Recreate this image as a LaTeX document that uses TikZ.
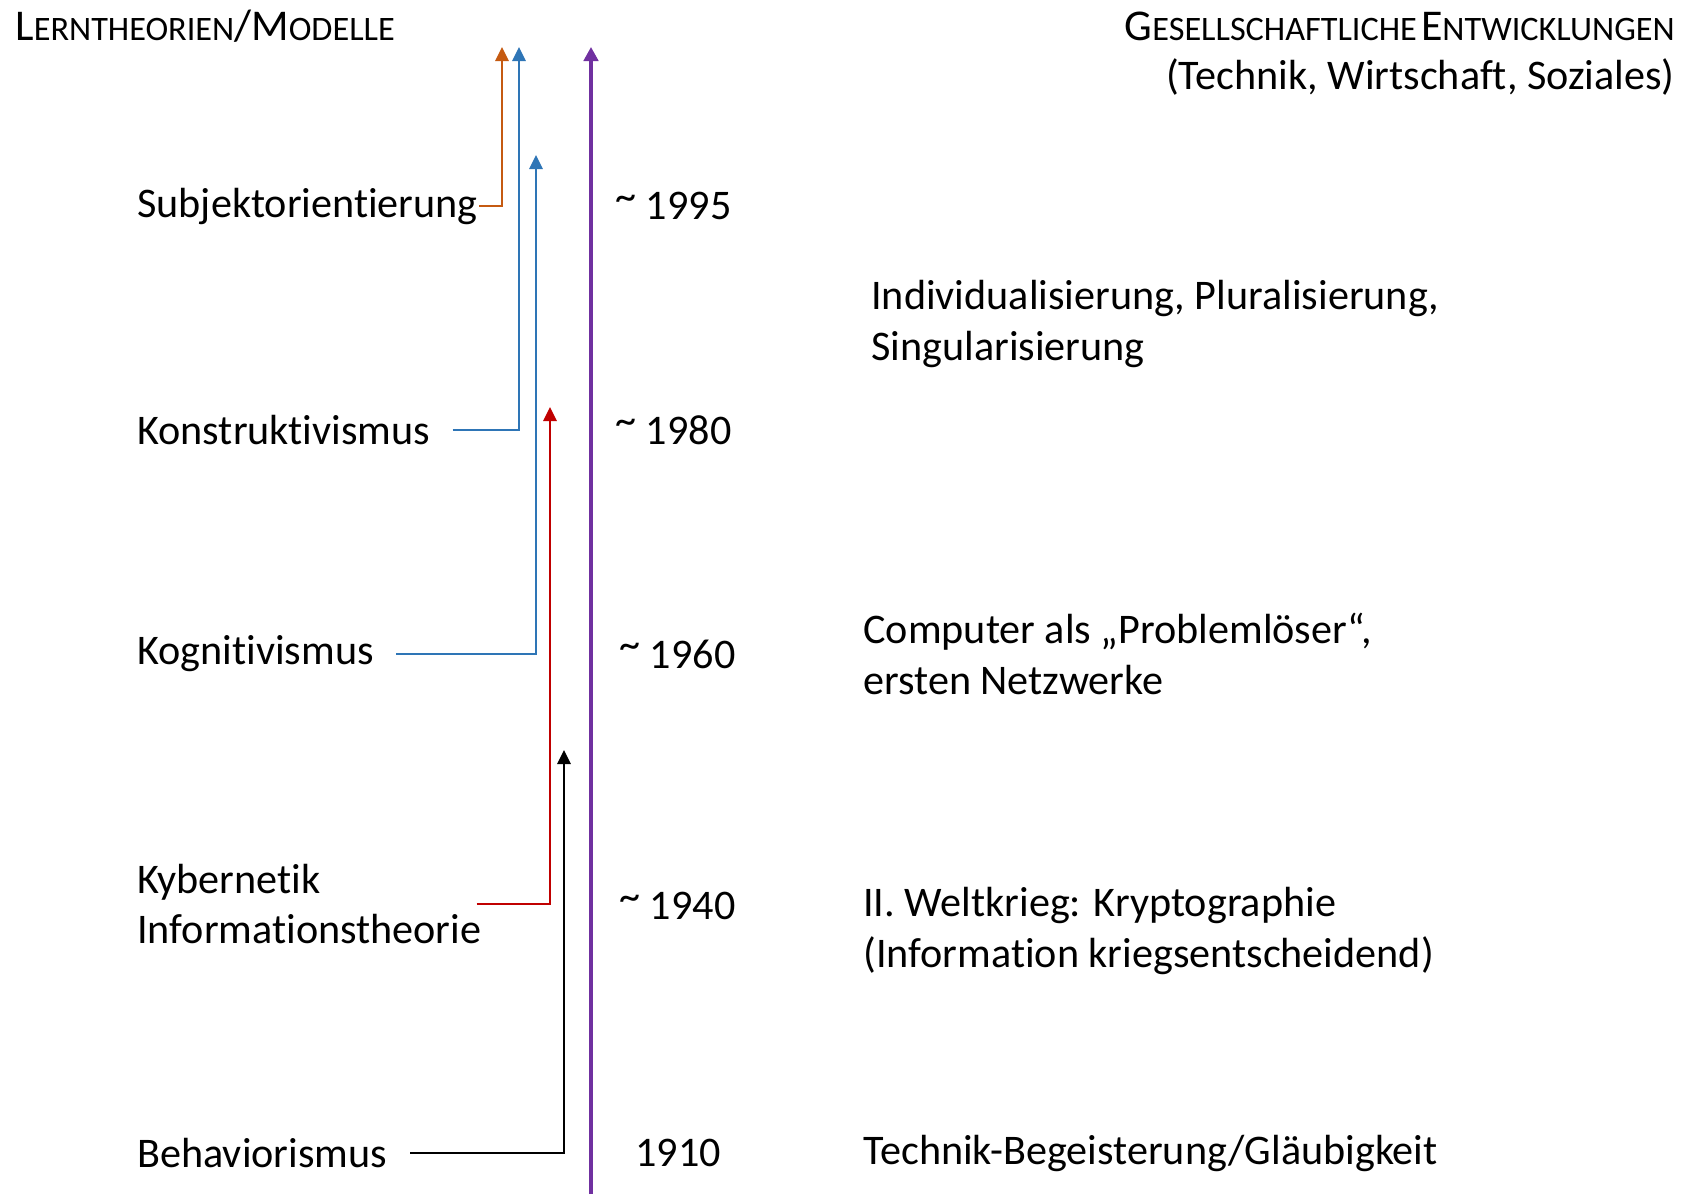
\documentclass[tikz,border=0pt]{standalone}
\usepackage{fontspec}
\setmainfont{Carlito}[Ligatures=NoCommon]
\usepackage{tikz}
\usetikzlibrary{calc, arrows.meta}

\definecolor{orangeline}{HTML}{C55A11}
\definecolor{blueline}{HTML}{2E75B6}
\definecolor{redline}{HTML}{C00000}
\definecolor{purpleline}{HTML}{7030A0}

% fake small caps for the headings
\newcommand{\headcap}[1]{{\fontsize{25}{30}\selectfont #1}}
\newcommand{\headsmall}[1]{{\fontsize{19.5}{23}\selectfont #1}}
% raised tilde for approximate years
\newcommand{\approxyear}{\raisebox{0.22em}{\textasciitilde}}

\tikzset{
  theory/.style={anchor=west, inner sep=0pt, align=left, font=\fontsize{24}{29}\selectfont},
  year/.style={anchor=west, inner sep=0pt, font=\fontsize{24}{29}\selectfont},
  society/.style={anchor=west, inner sep=0pt, align=left, font=\fontsize{24}{29}\selectfont},
  influence/.style={-{Triangle[length=0.28cm,width=0.27cm]}, line width=0.9pt}
}

\begin{document}
\begin{tikzpicture}[x=0.02cm, y=-0.02cm]
            \useasboundingbox (0,0) rectangle (1687,1194);

            % Headings
            \node[anchor=west, inner sep=0pt] (headleft) at (15,26)
              {\headcap{L}\headsmall{ERNTHEORIEN}\headcap{/M}\headsmall{ODELLE}};
            \node[anchor=east, inner sep=0pt] (headright) at (1675,26)
              {\headcap{G}\headsmall{ESELLSCHAFTLICHE} \headcap{E}\headsmall{NTWICKLUNGEN}};
            \node[anchor=east, inner sep=0pt, font=\fontsize{24}{29}\selectfont] (headsub) at (1675,77)
              {(Technik, Wirtschaft, Soziales)};

            % Learning theories
            \node[theory] (subj) at (137,206) {Subjektorientierung};
            \node[theory] (konstr) at (137,430) {Konstruktivismus};
            \node[theory] (kogn) at (137,654) {Kognitivismus};
            \node[theory] (kyb) at (137,904) {Kybernetik\\Informationstheorie};
            \node[theory] (behav) at (137,1153) {Behaviorismus};

            % Years
            \node[year] (y1995) at (615,206) {\approxyear{} 1995};
            \node[year] (y1980) at (615,430) {\approxyear{} 1980};
            \node[year] (y1960) at (619,654) {\approxyear{} 1960};
            \node[year] (y1940) at (619,906) {\approxyear{} 1940};
            \node[year] (y1910) at (635,1153) {1910};

            % Social developments
            \node[society] (indiv) at (871,324) {Individualisierung, Pluralisierung,\\Singularisierung};
            \node[society] (comp) at (863,654) {Computer als „Problemlöser“,\\ersten Netzwerke};
            \node[society] (krieg) at (863,931) {II. Weltkrieg: Kryptographie\\(Information kriegsentscheidend)};
            \node[society] (technik) at (863,1153) {Technik-Begeisterung/Gläubigkeit};

            % Arrow tips
            \coordinate (tipsubj) at (502,47);
            \coordinate (tipkonstr) at (519,47);
            \coordinate (tipkogn) at (536,155);
            \coordinate (tipkyb) at (550,407);
            \coordinate (tipbehav) at (564,750);
            \coordinate (timetop) at (591,47);
            \coordinate (timebottom) at (591,1194);

            % Time axis
            \draw[-{Triangle[length=0.28cm,width=0.29cm]}, line width=1.8pt, purpleline] (timebottom) -- (timetop);

            % Influence arrows
            \draw[influence, orangeline] ([xshift=0.02cm]subj.east) -| (tipsubj);
            \draw[influence, blueline] ([xshift=0.44cm]konstr.east) -| (tipkonstr);
            \draw[influence, blueline] ([xshift=0.44cm]kogn.east) -| (tipkogn);
            \draw[influence, redline] ([xshift=-0.1cm]kyb.east) -| (tipkyb);
            \draw[influence, black] ([xshift=0.46cm]behav.east) -| (tipbehav);
        \end{tikzpicture}
\end{document}
